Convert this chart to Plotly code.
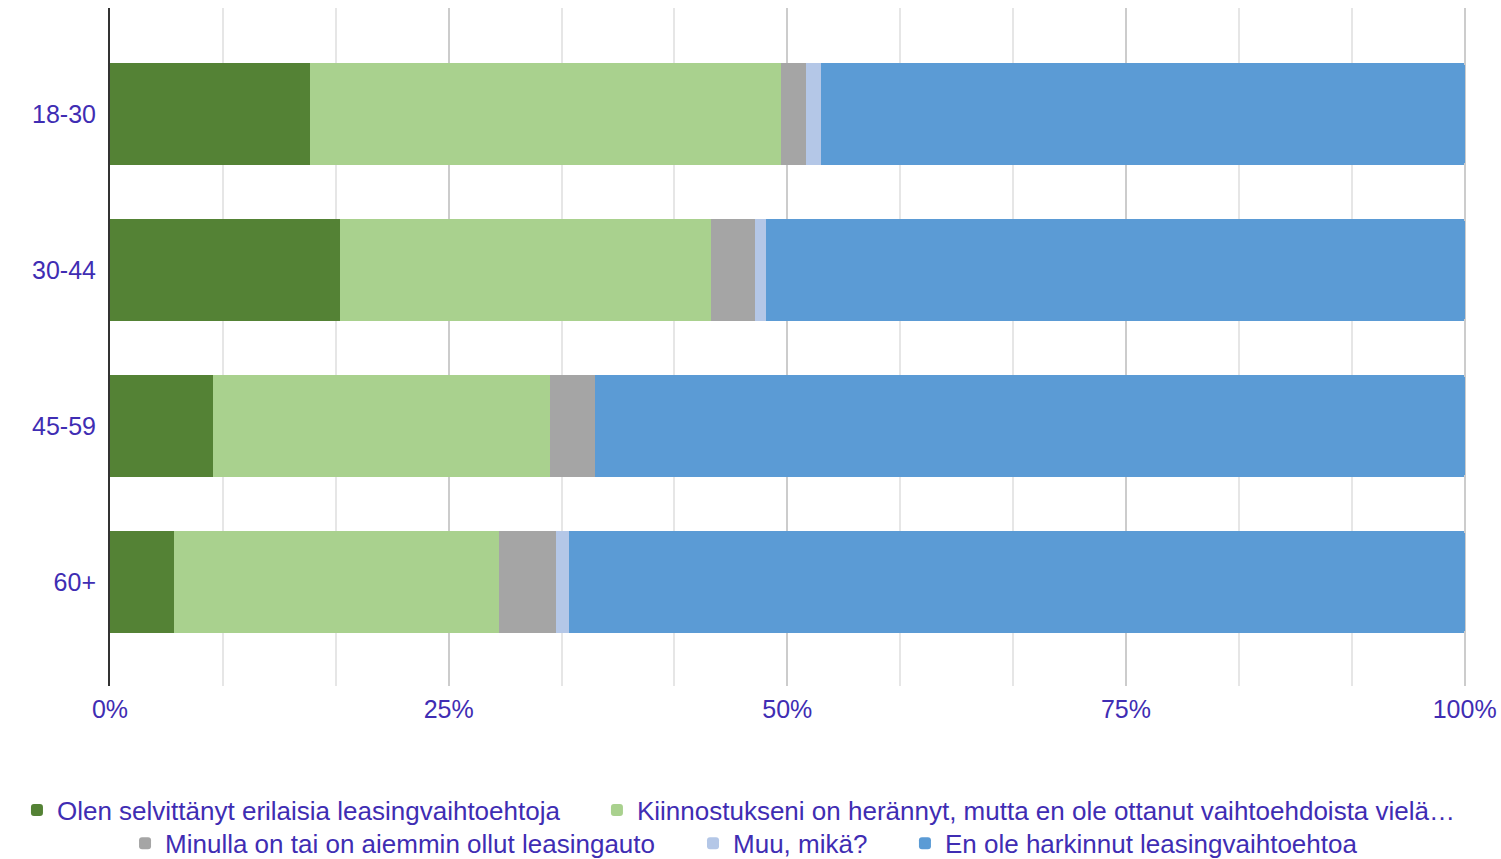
import plotly.graph_objects as go

# age groups, top to bottom
age_groups = ["18-30", "30-44", "45-59", "60+"]

# answer categories (legend order)
answers = [
    "Olen selvittänyt erilaisia leasingvaihtoehtoja",
    "Kiinnostukseni on herännyt, mutta en ole ottanut vaihtoehdoista vielä…",
    "Minulla on tai on aiemmin ollut leasingauto",
    "Muu, mikä?",
    "En ole harkinnut leasingvaihtoehtoa",
]

# shares in percent, per answer, per age group
selvittanyt = [14.8, 17.0, 7.6, 4.7]
kiinnostunut = [34.7, 27.4, 24.9, 24.0]
leasingauto = [1.9, 3.2, 3.3, 4.2]
muu = [1.1, 0.8, 0.0, 1.0]
ei_harkinnut = [47.5, 51.6, 64.2, 66.1]

tick_vals = [0, 25, 50, 75, 100]
tick_text = ["0%", "25%", "50%", "75%", "100%"]

colors = ["#548235", "#a9d18e", "#a5a5a5", "#b4c7e7", "#5b9bd5"]
text_color = "#3f2db3"
font_family = "Arial, Liberation Sans, sans-serif"

series = [selvittanyt, kiinnostunut, leasingauto, muu, ei_harkinnut]

# one legend per entry so the two centred rows can be laid out like the original
# (x is a fraction of the figure width, y is in plot coordinates)
legend_ids = ["legend", "legend2", "legend3", "legend4", "legend5"]
legend_pos = [(0.0113, -0.183), (0.3977, -0.183),
              (0.0833, -0.232), (0.4617, -0.232), (0.6029, -0.232)]

fig = go.Figure()
for name, vals, col, lg in zip(answers, series, colors, legend_ids):
    fig.add_trace(go.Bar(
        y=age_groups,
        x=vals,
        name=name,
        orientation="h",
        marker=dict(color=col, line=dict(width=0)),
        legend=lg,
        hovertemplate="%{y}: %{x:.1f}%<extra>" + name + "</extra>",
    ))

legends = {}
for lg, (lx, ly) in zip(legend_ids, legend_pos):
    legends[lg] = dict(
        orientation="h",
        xref="container",
        x=lx,
        xanchor="left",
        y=ly,
        yanchor="middle",
        font=dict(size=26, color=text_color),
        bgcolor="rgba(0,0,0,0)",
    )

fig.update_layout(
    showlegend=True,
    barmode="stack",
    bargap=0.346,
    barcornerradius=2,
    width=1501,
    height=859,
    margin=dict(l=110, r=35, t=8, b=173, autoexpand=False),
    plot_bgcolor="white",
    paper_bgcolor="white",
    font=dict(family=font_family, color=text_color, size=25),
    xaxis=dict(
        range=[0, 100.1],
        tickmode="array",
        tickvals=tick_vals,
        ticktext=tick_text,
        showgrid=True,
        gridcolor="#cccccc",
        gridwidth=2,
        zeroline=False,
        ticklabelstandoff=6,
        tickfont=dict(size=25, color=text_color),
        minor=dict(dtick=100 / 12, tick0=0, showgrid=True,
                   gridcolor="#e6e6e6", gridwidth=2),
    ),
    yaxis=dict(
        categoryorder="array",
        categoryarray=age_groups,
        range=[3.667, -0.679],
        showgrid=False,
        showline=True,
        linecolor="#333333",
        linewidth=2,
        ticklabelstandoff=7,
        tickfont=dict(size=25, color=text_color),
    ),
    **legends,
)

# drop the default 8px body margin so the figure fills the window exactly
fig.write_html(
    "out.html",
    config={"displayModeBar": False},
    post_script="document.body.style.margin = '0';",
)
